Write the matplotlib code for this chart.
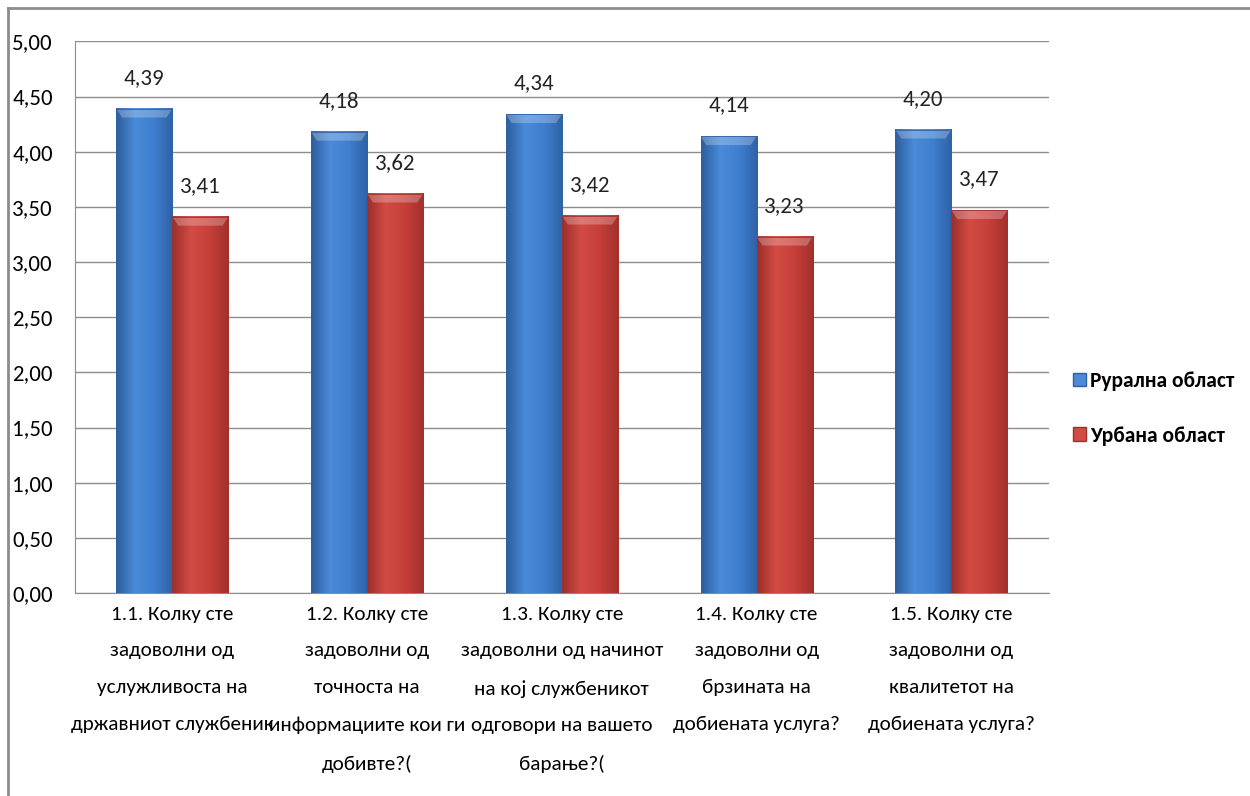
import numpy as np
import matplotlib.pyplot as plt
from matplotlib.lines import Line2D
from matplotlib.patches import Patch
from matplotlib.colors import LinearSegmentedColormap

plt.rcParams['font.family'] = ['Carlito', 'Roboto Condensed', 'Open Sans', 'DejaVu Sans']

# данни
categories = [
    "1.1. Колку сте\nзадоволни од\nуслужливоста на\nдржавниот службеник",
    "1.2. Колку сте\nзадоволни од\nточноста на\nинформациите кои ги\nдобивте?(",
    "1.3. Колку сте\nзадоволни од начинот\nна кој службеникот\nодговори на вашето\nбарање?(",
    "1.4. Колку сте\nзадоволни од\nбрзината на\nдобиената услуга?",
    "1.5. Колку сте\nзадоволни од\nквалитетот на\nдобиената услуга?",
]
rural = [4.39, 4.18, 4.34, 4.14, 4.20]
urban = [3.41, 3.62, 3.42, 3.23, 3.47]
series_names = ["Рурална област", "Урбана област"]

blue_cols = ['#2d5e9e', '#4a8ad8', '#3f7fcf', '#2f62a6']
red_cols = ['#9e2e2a', '#d24c45', '#c63f39', '#a3302c']

fig = plt.figure(figsize=(12.5, 7.96), dpi=100)
ax = fig.add_axes([0.06, 0.255, 0.779, 0.693])

x = np.arange(len(categories))
w = 0.288


def gradient_bars(xpos, vals, cols):
    cmap = LinearSegmentedColormap.from_list('g', [cols[0], cols[1], cols[2], cols[3]])
    grad = np.linspace(0, 1, 64).reshape(1, -1)
    for xi, v in zip(xpos, vals):
        ax.imshow(grad, extent=(xi - w / 2, xi + w / 2, 0, v), aspect='auto',
                  cmap=cmap, zorder=3, interpolation='bicubic')
        # светла горна ивица
        ax.fill([xi - w / 2, xi + w / 2, xi + w / 2 - 0.03, xi - w / 2 + 0.03],
                [v, v, v - 0.08, v - 0.08], color='white', alpha=0.25, lw=0, zorder=4)
        ax.bar(xi, v, w, facecolor='none', edgecolor=cols[3], lw=0.6, zorder=5)
        ax.text(xi, v + 0.19, f"{v:.2f}".replace('.', ','), ha='center', va='bottom',
                fontsize=16.5, color='#222222')


gradient_bars(x - w / 2, rural, blue_cols)
gradient_bars(x + w / 2, urban, red_cols)

ax.set_xlim(-0.5, len(categories) - 0.5)
ax.set_ylim(0, 5)
yt = np.arange(0, 5.01, 0.5)
ax.set_yticks(yt)
ax.set_yticklabels([f"{t:.2f}".replace('.', ',') for t in yt], fontsize=16.5)
ax.set_xticks(x)
ax.set_xticklabels(categories, fontsize=15.2, linespacing=2.4, va='top')
ax.tick_params(length=0)
ax.tick_params(axis='x', pad=9)
ax.tick_params(axis='y', pad=16)
ax.grid(axis='y', color='#8c8c8c', lw=1, zorder=0)
ax.set_axisbelow(True)
for s in ['top', 'right']:
    ax.spines[s].set_visible(False)
for s in ['left', 'bottom']:
    ax.spines[s].set_color('#8c8c8c')

handles = [Patch(facecolor=blue_cols[1], edgecolor=blue_cols[3]),
           Patch(facecolor=red_cols[1], edgecolor=red_cols[3])]
leg = fig.legend(handles, series_names, loc='center left', bbox_to_anchor=(0.843, 0.487),
                 frameon=False, prop={'size': 15.5, 'weight': 'bold'},
                 handlelength=0.6, handleheight=0.6, handletextpad=0.2, labelspacing=1.6)

# рамка
fig.add_artist(Line2D([0.0065, 1.0], [0.99, 0.99], color='#8c8c8c', lw=2))
fig.add_artist(Line2D([0.0065, 0.0065], [0.0, 0.99], color='#8c8c8c', lw=2))

fig.savefig('out.png', dpi=100)
